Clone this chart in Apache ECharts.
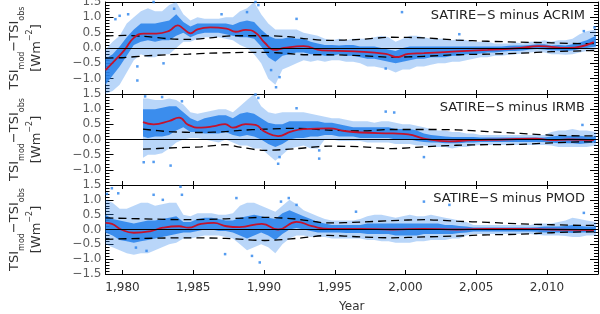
<!DOCTYPE html>
<html><head><meta charset="utf-8">
<script src="https://cdn.jsdelivr.net/npm/echarts@6/dist/echarts.min.js"></script>
<style>html,body{margin:0;padding:0;background:#fff}#c{width:600px;height:314px}</style>
</head><body><div id="c"></div>
<script>
// ---------- axis ranges and tick labels ----------
const xMin = 1978.8, xMax = 2013.6;
const xTicks = [1980, 1985, 1990, 1995, 2000, 2005, 2010];
const yMin = -1.5, yMax = 1.5, yStep = 0.5;
const yTickLabelsUpper = [-1.0, -0.5, 0.0, 0.5, 1.0, 1.5];          // panels 1 and 2
const yTickLabelsBottom = [-1.5, -1.0, -0.5, 0.0, 0.5, 1.0, 1.5];   // panel 3
const panelTitles = ['SATIRE−S minus ACRIM', 'SATIRE−S minus IRMB', 'SATIRE−S minus PMOD'];

// ---------- common time grid for the scatter clouds (years) ----------
const yearsA = [1978.8,1979.3,1979.8,1980.3,1980.8,1981.3,1981.8,1982.3,1982.8,1983.3,
  1983.8,1984.3,1984.8,1985.3,1985.8,1986.3,1986.8,1987.3,1987.8,1988.3,
  1988.8,1989.3,1989.8,1990.3,1990.8,1991.3,1991.8,1992.3,1992.8,1993.3,
  1993.8,1994.3,1994.8,1995.3,1995.8,1996.3,1996.8,1997.3,1997.8,1998.3,
  1998.8,1999.3,1999.8,2000.3,2000.8,2001.3,2001.8,2002.3,2002.8,2003.3,
  2003.8,2004.3,2004.8,2005.3,2005.8,2006.3,2006.8,2007.3,2007.8,2008.3,
  2008.8,2009.3,2009.8,2010.3,2010.8,2011.3,2011.8,2012.3,2012.8,2013.45];
const yearsB = [1981.45,1981.8,1982.3,1982.8,1983.3,1983.8,1984.3,1984.8,1985.3,1985.8,1986.3,
  1986.8,1987.3,1987.8,1988.3,1988.8,1989.3,1989.8,1990.3,1990.8,1991.3,
  1991.8,1992.3,1992.8,1993.3,1993.8,1994.3,1994.8,1995.3,1995.8,1996.3,
  1996.8,1997.3,1997.8,1998.3,1998.8,1999.3,1999.8,2000.3,2000.8,2001.3,
  2001.8,2002.3,2002.8,2003.3,2003.8,2004.3,2004.8,2005.3,2005.8,2006.3,
  2006.8,2007.3,2007.8,2008.3,2008.8,2009.3,2009.8,2010.3,2010.8,2011.3,
  2011.8,2012.3,2012.8,2013.45];

// ---------- ACRIM: daily-difference cloud (dense core / sparse extent) ----------
const acrimCoreLo = [-1.2,-0.9,-0.6,-0.25,0.1,0.2,0.25,0.2,0.25,0.25,
  0.4,0.5,0.35,0.45,0.5,0.5,0.5,0.45,0.4,0.35,
  0.35,0.3,0.05,-0.3,-0.45,-0.25,-0.2,-0.15,-0.15,-0.2,
  -0.2,-0.25,-0.25,-0.2,-0.25,-0.25,-0.3,-0.35,-0.35,-0.4,
  -0.45,-0.5,-0.45,-0.4,-0.35,-0.35,-0.3,-0.3,-0.3,-0.25,
  -0.25,-0.2,-0.2,-0.18,-0.15,-0.15,-0.12,-0.1,-0.1,-0.08,
  -0.05,-0.03,-0.05,-0.08,-0.08,-0.1,-0.08,-0.03,0.0,0.05];
const acrimCoreHi = [-0.35,-0.2,0.05,0.35,0.6,0.8,0.8,0.8,0.85,0.9,
  1.1,0.85,0.7,0.8,0.8,0.8,0.8,0.8,0.75,0.85,
  0.9,0.85,0.6,0.4,0.3,0.3,0.35,0.3,0.3,0.2,
  0.15,0.1,0.1,0.08,0.1,0.1,0.05,0.05,0.05,0.0,
  -0.05,-0.1,0.0,0.05,0.05,0.05,0.05,0.05,0.05,0.05,
  0.05,0.05,0.05,0.05,0.05,0.05,0.05,0.07,0.08,0.08,
  0.1,0.12,0.12,0.08,0.1,0.08,0.12,0.18,0.25,0.4];
const acrimSpreadLo = [-1.5,-1.4,-1.2,-0.8,-0.4,-0.2,-0.3,-0.3,-0.2,-0.2,
  0.0,0.2,0.2,0.3,0.35,0.35,0.35,0.3,0.25,0.1,
  0.0,-0.2,-0.5,-1.0,-1.2,-0.7,-0.6,-0.5,-0.4,-0.45,
  -0.4,-0.45,-0.4,-0.4,-0.45,-0.45,-0.5,-0.6,-0.6,-0.65,
  -0.7,-0.8,-0.7,-0.7,-0.6,-0.6,-0.55,-0.5,-0.5,-0.45,
  -0.45,-0.4,-0.35,-0.3,-0.3,-0.25,-0.25,-0.22,-0.2,-0.18,
  -0.15,-0.12,-0.15,-0.2,-0.2,-0.22,-0.2,-0.15,-0.1,-0.05];
const acrimSpreadHi = [-0.05,0.2,0.4,0.8,1.0,1.2,1.3,1.2,1.2,1.4,
  1.5,1.1,0.9,1.0,0.95,0.95,0.95,1.0,1.0,1.2,
  1.3,1.5,1.1,0.8,0.6,0.6,0.6,0.6,0.5,0.45,
  0.4,0.3,0.25,0.3,0.25,0.3,0.3,0.3,0.35,0.4,
  0.35,0.2,0.3,0.4,0.4,0.35,0.3,0.3,0.3,0.25,
  0.3,0.25,0.2,0.2,0.2,0.15,0.15,0.15,0.18,0.15,
  0.2,0.2,0.25,0.2,0.25,0.25,0.3,0.45,0.55,0.6];
const acrimOutliers = [[1979.5,0.94],[1979.8,1.05],[1981.05,-1.06],[1981.05,-0.6],[1982.2,1.5],
  [1984.1,1.55],[1983.65,1.28],[1989.4,1.5],[1989.6,1.4],[1988.8,1.17],[1990.85,-1.28],
  [1991.1,-0.95],[1990.5,-0.72],[1992.3,0.95],[1999.75,1.17],[2003.8,0.45],[1998.6,-0.67],
  [2012.6,0.55],[2013.35,0.67],[1980.4,1.1],[1982.9,-0.5],[1987.0,1.1]];
// smoothed difference (red) and uncertainty range (dashed)
const acrimSmoothYears = [1978.8,1979.5,1980.15,1980.8,1981.5,1982.4,1983.3,1983.9,1984.3,1984.8,
  1985.3,1986.2,1987.35,1988.0,1988.7,1989.4,1990.05,1990.75,1991.4,1992.8,1994.1,1996.4,
  1998.6,1999.4,2000.2,2001.3,2003.6,2005.8,2008.1,2009.4,2011.5,2013.3];
const acrimSmooth = [-0.72,-0.39,-0.06,0.33,0.47,0.47,0.56,0.74,0.63,0.48,
  0.61,0.67,0.63,0.53,0.59,0.5,0.17,-0.06,0.0,0.06,-0.08,-0.11,
  -0.19,-0.3,-0.19,-0.17,-0.11,-0.06,0.0,0.06,0.0,0.19];
const acrimRangeYears = [1978.8,1980.15,1981.5,1983.3,1984.65,1986.2,1987.8,1990.05,1991.7,1993.0,
  1994.55,1996.8,1999.05,2001.3,2003.6,2005.8,2008.1,2010.35,2012.6,2013.45];
const acrimRangeHi = [0.39,0.41,0.38,0.3,0.28,0.33,0.4,0.4,0.37,0.3,0.25,0.28,0.35,0.33,0.26,0.22,0.19,0.17,0.14,0.14];
const acrimRangeLo = [-0.33,-0.31,-0.26,-0.22,-0.2,-0.17,-0.15,-0.14,-0.18,-0.22,-0.22,-0.25,-0.3,-0.27,-0.22,-0.2,-0.17,-0.12,-0.09,-0.08];

// ---------- IRMB ----------
const irmbCoreLo = [0.1, 0.05,0.1,0.1,0.15,0.3,0.4,0.25,0.25,0.2,0.2,
  0.2,0.25,0.15,0.1,0.15, 0.1,0.0,-0.15,-0.25,-0.15, 0.0,0.05,0.05,0.1,0.1,
  0.15,0.15,0.1,0.1,0.1, 0.05,0.05,0.05,0.05,0.05, 0.0,0.0,0.0,-0.05,-0.08,
  -0.1,-0.1,-0.12,-0.12,-0.12, -0.1,-0.1,-0.08,-0.08,-0.08, -0.08,-0.08,-0.08,-0.08,-0.08,
  -0.08,-0.08,-0.1,-0.12,-0.12, -0.12,-0.15,-0.12, -0.1];
const irmbCoreHi = [1.0, 1.0,1.0,1.05,1.1,1.1,0.9,0.7,0.6,0.7,0.75,
  0.8,0.8,0.7,0.85,0.9, 0.85,0.7,0.55,0.5,0.5, 0.6,0.6,0.6,0.6,0.6,
  0.55,0.55,0.5,0.45,0.4, 0.4,0.4,0.4,0.4,0.4, 0.35,0.35,0.35,0.3,0.2,
  0.15,0.12,0.1,0.08,0.08, 0.08,0.08,0.07,0.07,0.07, 0.07,0.07,0.07,0.07,0.07,
  0.07,0.07,0.1,0.12,0.12, 0.12,0.12,0.1, 0.1];
const irmbSpreadLo = [-0.6, -0.5,-0.5,-0.45,-0.3,-0.1,0.0,0.05,0.05,0.0,-0.05,
  -0.1,0.0,-0.1,-0.2,-0.2, -0.3,-0.3,-0.5,-0.7,-0.5, -0.3,-0.25,-0.2,-0.3,-0.3,
  0.0,0.0,-0.05,-0.05,-0.05, -0.05,-0.1,-0.1,-0.1,-0.1, -0.15,-0.15,-0.15,-0.2,-0.2,
  -0.25,-0.25,-0.25,-0.3,-0.25, -0.25,-0.2,-0.18,-0.18,-0.18, -0.18,-0.18,-0.18,-0.18,-0.18,
  -0.18,-0.18,-0.2,-0.25,-0.25, -0.25,-0.25,-0.25, -0.2];
const irmbSpreadHi = [1.35, 1.35,1.3,1.3,1.35,1.3,1.15,0.9,0.85,0.9,0.95,
  1.0,1.0,0.9,1.1,1.3, 1.5,1.1,0.9,0.85,0.9, 0.9,0.9,0.9,0.85,0.8,
  0.75,0.7,0.7,0.65,0.6, 0.6,0.6,0.55,0.6,0.6, 0.55,0.5,0.5,0.45,0.4,
  0.35,0.3,0.3,0.25,0.25, 0.2,0.2,0.15,0.15,0.15, 0.15,0.15,0.15,0.15,0.15,
  0.15,0.15,0.25,0.3,0.3, 0.35,0.3,0.3, 0.25];
const irmbOutliers = [[1981.6,1.42],[1982.2,-0.74],[1983.4,-0.86],[1984.2,1.26],[1989.4,1.48],
  [1989.6,1.37],[1991.0,-0.8],[1991.1,-0.58],[1993.9,-0.63],[1993.9,-0.36],[1992.3,1.03],
  [1998.6,0.92],[2001.3,-0.58],[1999.2,0.89],[2012.5,0.48],[1981.5,-0.75],[1982.8,1.4]];
const irmbSmoothYears = [1981.45,1982.2,1983.3,1984.0,1984.65,1985.55,1986.5,1987.25,1987.8,1988.7,
  1989.4,1990.05,1991.0,1991.9,1992.8,1994.6,1995.7,1996.8,1999.1,2000.2,2001.3,2003.1,
  2004.7,2006.95,2009.2,2010.3,2011.5,2013.3];
const irmbSmooth = [0.57,0.5,0.61,0.72,0.48,0.39,0.44,0.51,0.39,0.51,
  0.48,0.26,0.11,0.26,0.34,0.37,0.28,0.23,0.2,0.17,0.03,-0.06,
  -0.02,0.0,0.03,-0.02,0.0,-0.02];
const irmbRangeYears = [1981.45,1983.3,1985.55,1987.3,1988.3,1990.05,1992.3,1994.55,1996.8,1999.05,
  2001.3,2003.6,2005.8,2008.1,2010.35,2012.6,2013.45];
const irmbRangeHi = [0.34,0.26,0.23,0.26,0.3,0.34,0.37,0.31,0.28,0.33,0.33,0.32,0.26,0.2,0.14,0.12,0.12];
const irmbRangeLo = [-0.32,-0.28,-0.24,-0.17,-0.25,-0.36,-0.3,-0.22,-0.24,-0.3,-0.24,-0.19,-0.17,-0.16,-0.11,-0.08,-0.08];

// ---------- PMOD ----------
const pmodCoreLo = [-0.1,-0.2,-0.35,-0.4,-0.45,-0.4,-0.35,-0.3,-0.25,-0.2,
  -0.15,-0.1,-0.1,-0.05,0.0,0.0,-0.05,-0.05,-0.1,-0.2,
  -0.3,-0.2,-0.1,-0.2,-0.35,-0.15,0.0,0.05,0.0,-0.05,
  -0.1,-0.1,-0.1,-0.1,-0.12,-0.12,-0.12,-0.15,-0.15,-0.15,
  -0.15,-0.2,-0.2,-0.2,-0.2,-0.15,-0.15,-0.15,-0.15,-0.15,
  -0.12,-0.1,-0.07,-0.07,-0.07,-0.07,-0.07,-0.07,-0.07,-0.07,
  -0.07,-0.08,-0.1,-0.1,-0.1,-0.1,-0.12,-0.1,-0.1,-0.08];
const pmodCoreHi = [0.5,0.35,0.3,0.25,0.2,0.25,0.3,0.3,0.35,0.4,
  0.45,0.25,0.25,0.35,0.4,0.4,0.35,0.3,0.3,0.4,
  0.45,0.5,0.45,0.4,0.35,0.55,0.65,0.55,0.45,0.35,
  0.25,0.2,0.15,0.15,0.15,0.15,0.15,0.2,0.2,0.2,
  0.2,0.2,0.2,0.2,0.2,0.2,0.2,0.2,0.15,0.15,
  0.12,0.1,0.07,0.07,0.07,0.07,0.07,0.07,0.07,0.07,
  0.07,0.08,0.1,0.1,0.1,0.12,0.15,0.12,0.1,0.1];
const pmodSpreadLo = [-0.5,-0.6,-0.7,-0.8,-0.85,-0.8,-0.8,-0.7,-0.6,-0.5,
  -0.45,-0.3,-0.3,-0.25,-0.2,-0.2,-0.2,-0.25,-0.3,-0.5,
  -0.7,-0.6,-0.5,-0.6,-0.8,-0.5,-0.3,-0.2,-0.2,-0.25,
  -0.25,-0.25,-0.3,-0.3,-0.3,-0.3,-0.3,-0.35,-0.35,-0.4,
  -0.4,-0.45,-0.45,-0.45,-0.4,-0.4,-0.35,-0.35,-0.35,-0.3,
  -0.3,-0.2,-0.15,-0.15,-0.15,-0.15,-0.15,-0.15,-0.15,-0.15,
  -0.15,-0.18,-0.2,-0.2,-0.2,-0.22,-0.25,-0.25,-0.2,-0.2];
const pmodSpreadHi = [1.0,0.9,0.7,0.7,0.8,0.9,0.9,0.8,0.85,0.9,
  0.9,0.5,0.45,0.55,0.55,0.55,0.5,0.5,0.55,0.8,
  0.9,0.9,0.8,0.7,0.6,0.8,1.0,0.85,0.65,0.55,
  0.45,0.35,0.3,0.3,0.3,0.3,0.35,0.45,0.5,0.5,
  0.45,0.4,0.45,0.5,0.45,0.45,0.5,0.45,0.4,0.35,
  0.3,0.25,0.15,0.15,0.15,0.15,0.15,0.15,0.15,0.15,
  0.15,0.2,0.2,0.2,0.25,0.3,0.4,0.35,0.3,0.25];
const pmodOutliers = [[1979.25,1.39],[1979.7,1.22],[1982.2,1.17],[1982.85,1.0],[1984.1,1.44],
  [1984.2,1.17],[1980.95,-0.61],[1981.7,-0.72],[1988.05,1.06],[1989.15,-0.89],[1989.7,-1.11],
  [1987.25,-0.83],[1991.2,0.94],[1991.75,1.06],[1992.3,0.83],[2001.3,0.94],[2003.1,0.83],
  [2012.6,0.56],[1978.9,1.2],[1996.5,0.6]];
const pmodSmoothYears = [1978.8,1979.25,1979.9,1980.8,1981.95,1982.85,1984.0,1984.65,1985.55,1986.45,
  1987.35,1988.25,1989.85,1991.0,1992.3,1993.4,1994.6,1996.8,1999.1,2001.3,2003.6,2005.8,
  2008.1,2010.3,2013.3];
const pmodSmooth = [0.22,0.19,0.0,-0.11,-0.06,0.06,0.11,0.06,0.19,0.22,
  0.11,0.08,0.19,0.0,0.26,0.11,0.02,0.02,0.0,0.02,0.0,0.02,
  0.02,0.0,-0.02];
const pmodRangeYears = [1978.8,1981.5,1984.65,1987.3,1990.05,1992.3,1994.55,1996.8,1999.05,2001.3,
  2003.6,2005.8,2008.1,2010.35,2012.6,2013.45];
const pmodRangeHi = [0.39,0.36,0.33,0.36,0.41,0.35,0.22,0.25,0.3,0.33,0.28,0.24,0.19,0.16,0.14,0.14];
const pmodRangeLo = [-0.33,-0.3,-0.28,-0.3,-0.37,-0.3,-0.2,-0.25,-0.28,-0.25,-0.22,-0.18,-0.16,-0.11,-0.08,-0.08];

// ---------- build ----------
const BLUE = '#2a83ec', RED = '#c4122c', FONT = 'DejaVu Sans', TXT = '#333';
function pairs(xs, ys) { const n = Math.min(xs.length, ys.length); const o = []; for (let i = 0; i < n; i++) o.push([xs[i], ys[i]]); return o; }

// filled band between two bounds, drawn through the axis scales (api.coord)
function bandSeries(c, years, lo, hi, opacity) {
  const n = Math.min(years.length, lo.length, hi.length);
  const data = [];
  for (let j = 0; j < n; j++) data.push([years[j], lo[j], hi[j]]);
  return {...c, type: 'custom', data, encode: {x: 0, y: [1, 2]}, clip: true,
    renderItem: (params, api) => {
      if (params.dataIndex !== 0) return null;
      const top = [], bot = [];
      for (let j = 0; j < data.length; j++) {
        top.push(api.coord([data[j][0], data[j][2]]));
        bot.push(api.coord([data[j][0], data[j][1]]));
      }
      return {type: 'polygon', shape: {points: top.concat(bot.reverse())},
        style: {fill: BLUE, opacity: opacity}};
    }};
}

const panels = [
  {years: yearsA, cLo: acrimCoreLo, cHi: acrimCoreHi, sLo: acrimSpreadLo, sHi: acrimSpreadHi, out: acrimOutliers,
   smY: acrimSmoothYears, sm: acrimSmooth, rY: acrimRangeYears, rHi: acrimRangeHi, rLo: acrimRangeLo, ticks: yTickLabelsUpper},
  {years: yearsB, cLo: irmbCoreLo, cHi: irmbCoreHi, sLo: irmbSpreadLo, sHi: irmbSpreadHi, out: irmbOutliers,
   smY: irmbSmoothYears, sm: irmbSmooth, rY: irmbRangeYears, rHi: irmbRangeHi, rLo: irmbRangeLo, ticks: yTickLabelsUpper},
  {years: yearsA, cLo: pmodCoreLo, cHi: pmodCoreHi, sLo: pmodSpreadLo, sHi: pmodSpreadHi, out: pmodOutliers,
   smY: pmodSmoothYears, sm: pmodSmooth, rY: pmodRangeYears, rHi: pmodRangeHi, rLo: pmodRangeLo, ticks: yTickLabelsBottom}
];
const gridTops = [2, 94, 185], gridHeights = [92, 91, 91], titleTops = [9, 101, 192];

const option = {animation: false, textStyle: {fontFamily: FONT}, title: [], grid: [], xAxis: [], yAxis: [], series: []};
const yName = '{a|TSI}{s|mod}{a|−TSI}{s|obs}\n{a|[Wm}{p|−2}{a|]}';
const yRich = {
  a: {fontSize: 13, lineHeight: 22, color: TXT, fontFamily: FONT},
  s: {fontSize: 8, color: TXT, fontFamily: FONT, verticalAlign: 'bottom'},
  p: {fontSize: 8, color: TXT, fontFamily: FONT, verticalAlign: 'top'}
};
const yFmt = v => (v < 0 ? '−' : '') + Math.abs(v).toFixed(1);

panels.forEach((p, i) => {
  const last = i === panels.length - 1;
  option.grid.push({left: 84, right: 2, top: gridTops[i], height: gridHeights[i]});
  option.title.push({text: panelTitles[i], right: 15, top: titleTops[i], padding: 0,
    textStyle: {fontSize: 13, fontWeight: 'normal', fontFamily: FONT, color: '#222'}});
  const xb = {type: 'value', gridIndex: i, min: xMin, max: xMax, position: 'bottom',
    axisLine: {onZero: false, lineStyle: {color: '#000', width: 1}},
    axisTick: {inside: true, length: 4, customValues: xTicks, lineStyle: {color: '#000'}},
    axisLabel: {show: last, customValues: xTicks, margin: 8, fontSize: 12, color: TXT, fontFamily: FONT},
    splitLine: {show: false}};
  if (last) { xb.name = 'Year'; xb.nameLocation = 'middle'; xb.nameGap = 27;
    xb.nameTextStyle = {fontSize: 12, color: TXT, fontFamily: FONT}; }
  option.xAxis.push(xb);
  option.xAxis.push({type: 'value', gridIndex: i, min: xMin, max: xMax, position: 'top',
    axisLine: {onZero: false, lineStyle: {color: '#000', width: 1}},
    axisTick: {inside: true, length: 4, customValues: xTicks, lineStyle: {color: '#000'}},
    axisLabel: {show: false}, splitLine: {show: false}});
  const yTick = {inside: true, length: 8, lineStyle: {color: '#000'}};
  const yMinor = {show: true, splitNumber: 5, length: 4, lineStyle: {color: '#000'}};
  option.yAxis.push({type: 'value', gridIndex: i, min: yMin, max: yMax, interval: yStep, position: 'left',
    axisLine: {show: true, onZero: false, lineStyle: {color: '#000', width: 1}},
    axisTick: yTick, minorTick: yMinor, splitLine: {show: false}, minorSplitLine: {show: false},
    axisLabel: {show: false},
    name: yName, nameLocation: 'middle', nameRotate: 90, nameGap: 58,
    nameTextStyle: {rich: yRich, align: 'center'}});
  option.yAxis.push({type: 'value', gridIndex: i, min: yMin, max: yMax, interval: yStep, position: 'right',
    axisLine: {show: true, onZero: false, lineStyle: {color: '#000', width: 1}},
    axisTick: yTick, minorTick: yMinor, splitLine: {show: false}, axisLabel: {show: false}});

  const c = {xAxisIndex: 2 * i, yAxisIndex: 2 * i, silent: true};
  option.series.push(bandSeries(c, p.years, p.sLo, p.sHi, 0.33));
  option.series.push(bandSeries(c, p.years, p.cLo, p.cHi, 0.88));
  option.series.push({...c, type: 'scatter', symbol: 'rect', symbolSize: 2.5, data: p.out,
    itemStyle: {color: BLUE},
    markLine: {silent: true, symbol: 'none', label: {show: false},
      lineStyle: {color: '#000', width: 1, type: 'solid'}, data: [{yAxis: 0}]}});
  [p.rHi, p.rLo].forEach(r => option.series.push({...c, type: 'line', symbol: 'none', smooth: 0.3,
    data: pairs(p.rY, r), lineStyle: {color: '#000', width: 1.3, type: [8, 5]}}));
  option.series.push({...c, type: 'line', symbol: 'none', smooth: 0.5,
    data: pairs(p.smY, p.sm), lineStyle: {color: RED, width: 1.8}});
  // y tick labels, placed at the left axis through the axis scale
  option.series.push({...c, type: 'scatter', clip: false, symbolSize: 0, z: 10,
    data: p.ticks.map(v => ({value: [xMin, v],
      label: {offset: [0, v >= yMax ? 5 : (v <= yMin ? -4 : 0)]}})),
    label: {show: true, position: 'left', distance: 4, fontSize: 12, color: TXT, fontFamily: FONT,
      formatter: prm => yFmt(prm.value[1])},
    labelLayout: {hideOverlap: false}});
});

echarts.init(document.getElementById('c'), null, {renderer: 'canvas'}).setOption(option);
</script></body></html>
